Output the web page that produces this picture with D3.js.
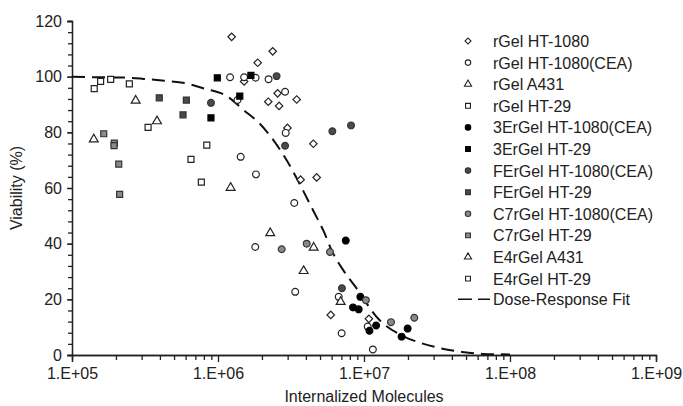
<!DOCTYPE html>
<html>
<head>
<meta charset="utf-8">
<script src="https://cdn.jsdelivr.net/npm/d3@7"></script>
<style>
  body { margin: 0; background: #fff; }
  text { font-family: Arial, "Liberation Sans", sans-serif; fill: #222; }
  .axis path, .axis line { stroke: #222; stroke-width: 1.3px; }
</style>
</head>
<body>
<div id="content"></div>
<script>

// --- data: [molecules, viability %] ---
var rGelHT1080 = [[1.24e6,114.3],[2.37e6,109.1],[1.87e6,105],[1.51e6,98.3],[2.56e6,94.0],[3.46e6,91.8],[2.21e6,91.0],
  [2.62e6,89.5],[2.99e6,81.6],[4.50e6,75.9],[3.68e6,63.0],[4.74e6,63.8],[5.92e6,14.4],[1.08e7,13.0]];
var rGelHT1080CEA = [[1.21e6,99.8],[1.36e6,91.6],[1.51e6,99.8],[1.81e6,99.6],[2.22e6,99.1],[2.88e6,94.6],[2.91e6,79.8],
  [1.43e6,71.2],[1.82e6,64.9],[3.33e6,54.6],[1.80e6,38.8],[3.38e6,22.7],[6.71e6,20.9],[7.03e6,7.8],[1.06e7,10.2],[1.15e7,2.0]];
var rGelA431 = [[2.28e6,43.8],[4.52e6,38.6],[3.86e6,30.2],[6.92e6,19.1]];
var rGelHT29 = [[1.42e5,95.7],[1.57e5,98.3],[1.84e5,99.0],[2.47e5,97.4]];
var erGel3HT1080CEA = [[7.5e6,41.1],[8.41e6,17.1],[9.2e6,16.4],[9.44e6,20.9],[1.09e7,8.7],[1.21e7,10.6],[1.99e7,9.5],[1.81e7,6.6]];
var erGel3HT29 = [[9.89e5,99.6],[8.95e5,85.2],[1.68e6,100.5],[1.41e6,93.0]];
var feGelHT1080CEA = [[8.95e5,90.6],[2.52e6,100.2],[6.07e6,80.4],[8.15e6,82.5],[2.88e6,75.2],[7.06e6,24.0]];
var feGelHT29 = [[3.96e5,92.4],[6.07e5,91.6],[5.76e5,86.3]];
var c7GelHT1080CEA = [[2.73e6,38.0],[4.05e6,40.0],[5.85e6,37.0],[1.03e7,19.7],[1.53e7,11.8],[2.21e7,13.4]];
var c7GelHT29 = [[1.65e5,79.5],[1.95e5,76.1],[1.94e5,75.2],[2.09e5,68.6],[2.12e5,57.7]];
var e4GelA431 = [[1.41e5,77.5],[2.73e5,91.4],[3.82e5,84.0],[1.22e6,60.1]];
var e4GelHT29 = [[3.32e5,81.8],[8.38e5,75.4],[6.53e5,70.3],[7.69e5,62.1]];

// dose-response fit, points
var fitX = [1e5,1.4e5,2.2e5,3.1e5,4.3e5,5.9e5,8.1e5,1.15e6,1.5e6,1.9e6,2.35e6,2.85e6,4.55e6,5.3e6,6.0e6,7.2e6,8.6e6,1.28e7,1.74e7,2.3e7,3.3e7,4.7e7,6.5e7,1e8];
var fitY = [100,99.8,99.7,99.2,98.5,97.7,95.7,93,88,83.5,77.8,71.3,51.3,44.4,37.6,30.5,25,12.5,7.5,4.8,2.5,1.1,0.4,0.2];

var seriesNames = ["rGel HT-1080","rGel HT-1080(CEA)","rGel A431","rGel HT-29","3ErGel HT-1080(CEA)","3ErGel HT-29",
  "FErGel HT-1080(CEA)","FErGel HT-29","C7rGel HT-1080(CEA)","C7rGel HT-29","E4rGel A431","E4rGel HT-29"];
var seriesData = [rGelHT1080, rGelHT1080CEA, rGelA431, rGelHT29, erGel3HT1080CEA, erGel3HT29,
  feGelHT1080CEA, feGelHT29, c7GelHT1080CEA, c7GelHT29, e4GelA431, e4GelHT29];
var fitName = "Dose-Response Fit";

var xTickValues = [1e5, 1e6, 1e7, 1e8, 1e9];
var xTickLabels = ["1.E+05","1.E+06","1.E+07","1.E+08","1.E+09"];
var yTickValues = [0, 20, 40, 60, 80, 100, 120];

// marker styles per series
var styles = [
  {shape: "diamond",  fill: "#fff",  stroke: "#222"},
  {shape: "circle",   fill: "#fff",  stroke: "#222"},
  {shape: "triangle", fill: "#fff",  stroke: "#222"},
  {shape: "square",   fill: "#fff",  stroke: "#222"},
  {shape: "circle",   fill: "#000",  stroke: "#000"},
  {shape: "square",   fill: "#000",  stroke: "#000"},
  {shape: "circle",   fill: "#4a4a4a", stroke: "#333"},
  {shape: "square",   fill: "#4a4a4a", stroke: "#333"},
  {shape: "circle",   fill: "#8a8a8a", stroke: "#333"},
  {shape: "square",   fill: "#8a8a8a", stroke: "#333"},
  {shape: "triangle", fill: "#fff",  stroke: "#222"},
  {shape: "square",   fill: "#fff",  stroke: "#222"}
];

var width = 683, height = 406;
var svg = d3.select("#content").append("svg")
    .attr("width", width).attr("height", height);

var x = d3.scaleLog().domain([1e5, 1e9]).range([72, 656]);
var y = d3.scaleLinear().domain([0, 120]).range([355, 21]);

function symbolPath(shape, k) {
  if (shape == "circle") return d3.symbol(d3.symbolCircle, 36 * k)();
  if (shape == "triangle") return d3.symbol(d3.symbolTriangle, 34 * k)();
  return d3.symbol(d3.symbolSquare, (shape == "diamond" ? 28 : 36) * k)();
}

// y axis: major every 20, minor every 4, ticks on the outside
var yMinor = d3.range(0, 121, 4);
svg.append("g").attr("class", "axis")
    .attr("transform", "translate(72,0)")
    .call(d3.axisLeft(y).tickValues(yMinor).tickSize(4).tickFormat(""));
var yAxis = svg.append("g").attr("class", "axis")
    .attr("transform", "translate(72,0)")
    .call(d3.axisLeft(y).tickValues(yTickValues).tickSize(5).tickPadding(5));
yAxis.selectAll("text").style("font-size", "16px");

// x axis: decades labelled, minor ticks at 2..9
var xMinor = [];
d3.range(5, 9).forEach(function(e) {
  for (var m = 2; m < 10; m++) xMinor.push(m * Math.pow(10, e));
});
svg.append("g").attr("class", "axis")
    .attr("transform", "translate(0,355)")
    .call(d3.axisBottom(x).tickValues(xMinor).tickSize(5).tickFormat(""));
var xAxis = svg.append("g").attr("class", "axis")
    .attr("transform", "translate(0,355)")
    .call(d3.axisBottom(x).tickValues(xTickValues).tickSize(7).tickPadding(6)
      .tickFormat(function(d, i) { return xTickLabels[i]; }));
xAxis.selectAll("text").style("font-size", "16px");
svg.selectAll(".axis .domain").attr("stroke-width", 1.3);

// axis titles
svg.append("text")
    .attr("x", 364).attr("y", 402)
    .attr("text-anchor", "middle")
    .style("font-size", "16px")
    .text("Internalized Molecules");
svg.append("text")
    .attr("transform", "translate(22,188) rotate(-90)")
    .attr("text-anchor", "middle")
    .style("font-size", "16px")
    .text("Viability (%)");

// fit curve
var line = d3.line()
    .x(function(d, i) { return x(fitX[i]); })
    .y(function(d) { return y(d); })
    .curve(d3.curveMonotoneX);
svg.append("path")
    .datum(fitY)
    .attr("d", line)
    .attr("fill", "none")
    .attr("stroke", "#111")
    .attr("stroke-width", 2)
    .attr("stroke-dasharray", "13,7");

// data points
seriesData.forEach(function(data, s) {
  var st = styles[s];
  svg.append("g").selectAll("path")
    .data(data)
    .enter().append("path")
      .attr("d", symbolPath(st.shape, 1))
      .attr("transform", function(d) {
        return "translate(" + x(d[0]) + "," + y(d[1]) + ")" + (st.shape == "diamond" ? " rotate(45)" : "");
      })
      .attr("fill", st.fill)
      .attr("stroke", st.stroke)
      .attr("stroke-width", 1.2);
});

// legend
var legend = svg.append("g").attr("transform", "translate(468,41)");
var rowH = 21.6;
seriesNames.forEach(function(name, s) {
  var st = styles[s];
  var g = legend.append("g").attr("transform", "translate(0," + (s * rowH) + ")");
  g.append("path")
    .attr("d", symbolPath(st.shape, 0.65))
    .attr("transform", st.shape == "diamond" ? "rotate(45)" : null)
    .attr("fill", st.fill)
    .attr("stroke", st.stroke)
    .attr("stroke-width", 1.1);
  g.append("text")
    .attr("x", 25).attr("y", 6)
    .style("font-size", "16px")
    .text(name);
});
var fitRow = legend.append("g").attr("transform", "translate(0," + (12 * rowH - 1) + ")");
fitRow.append("line")
    .attr("x1", -10).attr("x2", 22)
    .attr("stroke", "#111").attr("stroke-width", 1.5)
    .attr("stroke-dasharray", "14,6");
fitRow.append("text")
    .attr("x", 25).attr("y", 6)
    .style("font-size", "16px")
    .text(fitName);

</script>
</body>
</html>
